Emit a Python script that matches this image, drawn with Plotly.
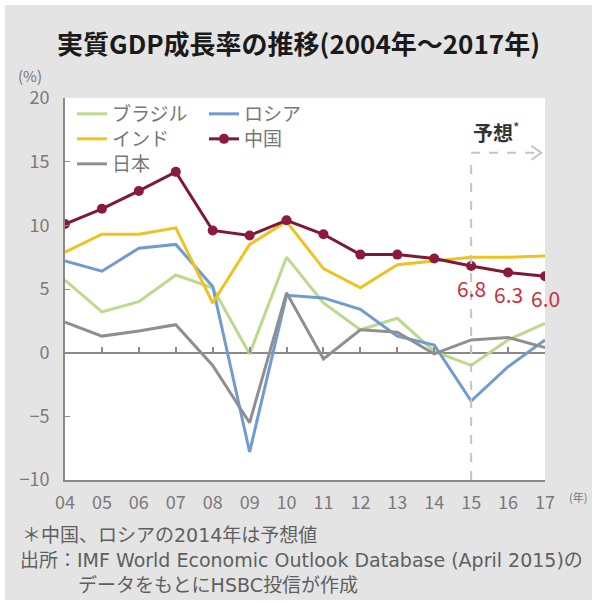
import plotly.graph_objects as go

years = list(range(2004, 2018))
year_labels = ["04", "05", "06", "07", "08", "09", "10", "11", "12", "13", "14", "15", "16", "17"]
brazil = [5.7, 3.2, 4.0, 6.1, 5.1, -0.1, 7.5, 3.9, 1.8, 2.7, 0.1, -1.0, 1.0, 2.3]
russia = [7.2, 6.4, 8.2, 8.5, 5.2, -7.8, 4.5, 4.3, 3.4, 1.3, 0.6, -3.8, -1.1, 1.0]
india = [7.9, 9.3, 9.3, 9.8, 3.9, 8.5, 10.3, 6.6, 5.1, 6.9, 7.2, 7.5, 7.5, 7.6]
china = [10.1, 11.3, 12.7, 14.2, 9.6, 9.2, 10.4, 9.3, 7.7, 7.7, 7.4, 6.8, 6.3, 6.0]
japan = [2.4, 1.3, 1.7, 2.2, -1.0, -5.5, 4.7, -0.5, 1.8, 1.6, -0.1, 1.0, 1.2, 0.4]
y_ticks = [-10, -5, 0, 5, 10, 15, 20]
y_labels = ["−10", "−5", "0", "5", "10", "15", "20"]
forecast_start = 2015
labelled_years = [2015, 2016, 2017]

FONT = "Noto Sans CJK JP"
FOOT_FONT = "DejaVu Sans, Noto Sans CJK JP"
W, H = 597, 603
ML, MR, MT, MB = 65, 52, 98, 123
PW, PH = W - ML - MR, H - MT - MB


def px_x(page_x):
    return (page_x - ML) / PW


def px_y(page_y):
    return (H - MB - page_y) / PH


fig = go.Figure()

# (name, values, colour, legend row)
series = [
    ("ブラジル", brazil, "#bcd98c", "legend"),
    ("ロシア", russia, "#6f9bd2", "legend"),
    ("インド", india, "#f0c21f", "legend2"),
    ("日本", japan, "#8f8f8f", "legend3"),
]
for name, vals, col, lg in series:
    fig.add_trace(go.Scatter(
        x=years, y=vals, name=name, mode="lines",
        line=dict(color=col, width=3), legend=lg, hoverinfo="skip"))

fig.add_trace(go.Scatter(
    x=years, y=china, name="中国", mode="lines+markers",
    line=dict(color="#7e1834", width=3),
    marker=dict(color="#8b1a3c", size=10), legend="legend2", hoverinfo="skip"))

# invisible trace binding the tick-only axis drawn along zero
fig.add_trace(go.Scatter(x=[years[0]], y=[0], xaxis="x2", mode="markers",
                         marker=dict(opacity=0), showlegend=False, hoverinfo="skip"))

# China labels for forecast years
for yr in labelled_years:
    v = china[years.index(yr)]
    fig.add_annotation(x=yr, y=v, text=f"{v:.1f}", showarrow=False,
                       yshift=-22, yanchor="middle", xanchor="center",
                       font=dict(family=FONT, size=21, color="#cc2f40"))

# background panel (gray with thin white border) and white plot area
fig.add_shape(type="rect", xref="paper", yref="paper", layer="below",
              x0=px_x(5), x1=px_x(592), y0=px_y(600), y1=px_y(5),
              fillcolor="#e4e4e4", line=dict(width=0))
fig.add_shape(type="rect", xref="paper", yref="paper", layer="below",
              x0=0, x1=1, y0=0, y1=1, fillcolor="#ffffff", line=dict(width=0))

# forecast marker
fig.add_shape(type="line", x0=forecast_start, x1=forecast_start, y0=-10, y1=15.2,
              line=dict(color="#c4c4c4", width=2, dash="dash"))
fig.add_shape(type="line", x0=forecast_start, x1=2016.85, y0=15.7, y1=15.7,
              line=dict(color="#c4c4c4", width=2, dash="dash"))
fig.add_shape(type="path", xsizemode="pixel", ysizemode="pixel",
              xanchor=2016.9, yanchor=15.7, path="M -10 -7 L 0 0 L -10 7",
              line=dict(color="#c4c4c4", width=2))
fig.add_annotation(x=forecast_start, y=17.3, text="<b>予想</b><sup>*</sup>", showarrow=False,
                   xanchor="left", yanchor="middle",
                   font=dict(family=FONT, size=20, color="#333333"))

# texts outside the plot
fig.add_annotation(xref="paper", yref="paper", x=px_x(16), y=px_y(75), text="(%)",
                   showarrow=False, xanchor="left", yanchor="middle",
                   font=dict(family=FONT, size=15, color="#777777"))
fig.add_annotation(xref="paper", yref="paper", x=px_x(567), y=px_y(497), text="(年)",
                   showarrow=False, xanchor="left", yanchor="middle",
                   font=dict(family=FONT, size=11, color="#777777"))
foot = [
    ("＊中国、ロシアの2014年は予想値", 20, 535),
    ("出所：IMF World Economic Outlook Database (April 2015)の", 18, 560),
    ("データをもとにHSBC投信が作成", 76, 585),
]
for txt, fx, fy in foot:
    fig.add_annotation(xref="paper", yref="paper", x=px_x(fx), y=px_y(fy), text=txt,
                       showarrow=False, xanchor="left", yanchor="middle",
                       font=dict(family=FOOT_FONT, size=19, color="#5f5f5f"))

legend_style = dict(orientation="h", xanchor="left", yanchor="middle",
                    bgcolor="rgba(0,0,0,0)", itemwidth=30, entrywidth=87,
                    font=dict(family=FONT, size=19, color="#777777"))

fig.update_layout(
    width=W, height=H,
    margin=dict(l=ML, r=MR, t=MT, b=MB),
    paper_bgcolor="#ffffff", plot_bgcolor="rgba(0,0,0,0)",
    font=dict(family=FONT, color="#777777"),
    title=dict(text="<b>実質GDP成長率の推移(2004年～2017年)</b>", xref="container",
               x=0.5, xanchor="center", y=1 - 45 / H, yanchor="middle",
               font=dict(family=FONT, size=26, color="#1a1a1a")),
    xaxis=dict(range=[2004, 2017], tickvals=years, ticktext=year_labels,
               showgrid=False, zeroline=False, showline=True, linecolor="#8a8a8a",
               linewidth=2, ticks="", ticklabelstandoff=5,
               tickfont=dict(family=FONT, size=18, color="#7a7a7a")),
    xaxis2=dict(range=[2004, 2017], overlaying="x", anchor="free", position=1 / 3,
                tickvals=years, ticks="inside", ticklen=6, tickwidth=1.5,
                tickcolor="#8a8a8a", showticklabels=False, showgrid=False,
                zeroline=False, showline=False),
    yaxis=dict(range=[-10, 20], tickvals=y_ticks, ticktext=y_labels,
               showgrid=False, zeroline=True, zerolinecolor="#8a8a8a", zerolinewidth=2,
               showline=True, linecolor="#8a8a8a", linewidth=2,
               ticks="inside", ticklen=5, tickcolor="#8a8a8a", ticklabelstandoff=10,
               tickfont=dict(family=FONT, size=18, color="#7a7a7a")),
    legend=dict(x=px_x(72), y=px_y(114), **legend_style),
    legend2=dict(x=px_x(72), y=px_y(139), **legend_style),
    legend3=dict(x=px_x(72), y=px_y(164), **legend_style),
    showlegend=True,
)

fig.write_html("out.html", config={"displayModeBar": False},
               post_script="document.body.style.margin='0';")
